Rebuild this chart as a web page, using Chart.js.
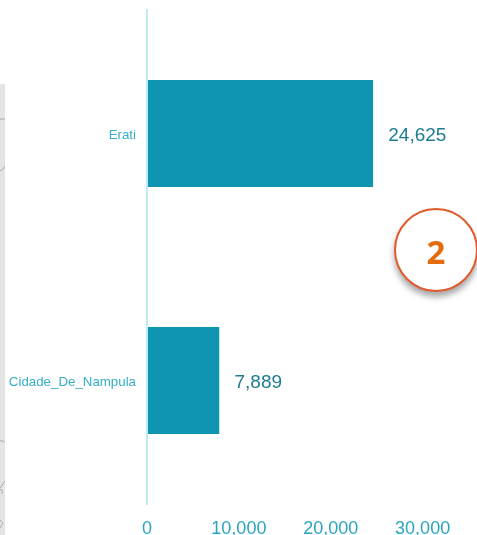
<!DOCTYPE html>
<html>
<head>
<meta charset="utf-8">
<script src="https://cdn.jsdelivr.net/npm/chart.js@4"></script>
<style>
  html, body { margin: 0; padding: 0; background: #fff; overflow: hidden; }
  #wrap { position: relative; width: 477px; height: 535px; }
  #strip { position: absolute; left: 0; top: 84px; width: 5px; height: 451px; background: #e4e4e4; }
  #strip svg { position: absolute; left: 0; top: 0; }
  #badge {
    position: absolute; left: 394px; top: 208px; width: 80px; height: 80px;
    border: 2px solid #e2592a; border-radius: 50%; background: #fff;
    box-shadow: 0 5px 6px rgba(0, 0, 0, 0.35);
    color: #e56c0c; font: bold 33px/84px "Open Sans", sans-serif; text-align: center;
  }
</style>
</head>
<body>
<div id="wrap">
  <canvas id="chart" width="477" height="535"></canvas>
  <div id="strip">
    <svg width="5" height="451" fill="none" stroke="#8a93a3" stroke-width="0.7">
      <path d="M0 35 H5" />
      <path d="M0 87 Q3 86 5 82" />
      <path d="M0 357 Q3 356 5 358" />
      <path d="M0 404 L5 397 M0 406 Q3 404 2 410" />
      <path d="M0 436 L3 439 L0 444" />
    </svg>
  </div>
  <div id="badge">2</div>
</div>
<script>
const categories = ["Erati", "Cidade_De_Nampula"];
const values = [24625, 7889];
const xTicks = [0, 10000, 20000, 30000];

// writes the number to the right of each bar
const valueLabels = {
  id: "valueLabels",
  afterDatasetsDraw(chart) {
    const ctx = chart.ctx;
    const meta = chart.getDatasetMeta(0);
    ctx.save();
    ctx.font = '19px "Liberation Sans"';
    ctx.fillStyle = "#1b7c92";
    ctx.textBaseline = "middle";
    meta.data.forEach((bar, i) => {
      ctx.fillText(values[i].toLocaleString("en-US"), bar.x + 15, bar.y + 2);
    });
    ctx.restore();
  },
};

new Chart(document.getElementById("chart"), {
  type: "bar",
  data: {
    labels: categories,
    datasets: [
      {
        data: values,
        backgroundColor: "#0f94b1",
        borderColor: "#bdeef5",
        borderWidth: { left: 1, right: 0, top: 0, bottom: 0 },
        borderSkipped: false,
        categoryPercentage: 1,
        barPercentage: 0.433,
      },
    ],
  },
  options: {
    indexAxis: "y",
    responsive: false,
    animation: false,
    layout: { padding: { top: 10, right: 36, bottom: 0, left: 0 } },
    plugins: {
      legend: { display: false },
      tooltip: { enabled: false },
    },
    scales: {
      x: {
        min: 0,
        max: 32000,
        afterBuildTicks(axis) {
          axis.ticks = xTicks.map((value) => ({ value }));
        },
        afterFit(axis) {
          axis.height = 31;
        },
        grid: { display: false },
        border: { display: false },
        ticks: {
          color: "#2aa5c0",
          font: { family: "Liberation Sans", size: 18 },
          padding: 6,
          maxRotation: 0,
          callback: (v) => v.toLocaleString("en-US"),
        },
      },
      y: {
        afterFit(axis) {
          axis.width = 147;
          axis.paddingTop = 0;
          axis.paddingBottom = 0;
        },
        grid: { display: false, drawTicks: false },
        border: { display: true, color: "#bdeef5", width: 2 },
        ticks: {
          color: "#35aec6",
          font: { family: "Liberation Sans", size: 13.3 },
          padding: 11,
          labelOffset: 2,
        },
      },
    },
  },
  plugins: [valueLabels],
});
</script>
</body>
</html>
